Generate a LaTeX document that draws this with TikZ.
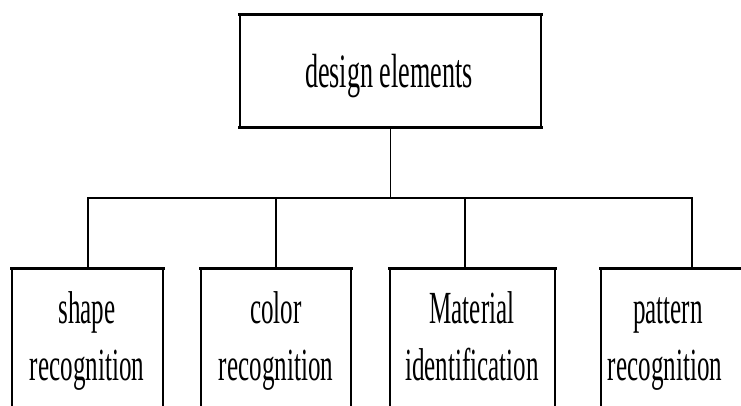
\documentclass[tikz,border=0pt]{standalone}
\usepackage{fontspec}
\setmainfont{Liberation Serif}
\begin{document}
\begin{tikzpicture}[x=1pt,y=-1pt,
  hl/.style={line width=2.8pt, line cap=rect},
  vl/.style={line width=1.7pt},
  frame/.style={draw=none, inner sep=0pt},
  toptxt/.style={font=\fontsize{48}{55}\selectfont, inner sep=0pt, anchor=base, xscale=0.545},
  lbl/.style={font=\fontsize{46}{57}\selectfont, inner sep=0pt, anchor=base, xscale=0.545}]
\useasboundingbox (0,0) rectangle (741,405);
\clip (0,0) rectangle (741,405);
% top box
\node[frame, minimum width=301pt, minimum height=112pt] (top) at (390.5,71) {};
\node[toptxt] (toptext) at (389,87) {design elements};
% bottom boxes
\node[frame, minimum width=151pt, minimum height=150pt] (b1) at (87.5,344) {};
\node[frame, minimum width=150pt, minimum height=150pt] (b2) at (276,344) {};
\node[frame, minimum width=165pt, minimum height=150pt] (b3) at (472.5,344) {};
\node[frame, minimum width=182pt, minimum height=150pt] (b4) at (692,344) {};
\foreach \b in {top,b1,b2,b3,b4}{
  \draw[hl] (\b.north west) -- (\b.north east);
  \draw[hl] (\b.south west) -- (\b.south east);
  \draw[vl] (\b.north west) -- (\b.south west);
  \draw[vl] (\b.north east) -- (\b.south east);
}
% texts
\node[lbl] (t1a) at (87,323) {shape};
\node[lbl] (t1b) at (87,380) {recognition};
\node[lbl] (t2a) at (276,323) {color};
\node[lbl] (t2b) at (276,380) {recognition};
\node[lbl] (t3a) at (472,323) {Material};
\node[lbl] (t3b) at (472,380) {identification};
\node[lbl] (t4a) at (668,323) {pattern};
\node[lbl] (t4b) at (665,380) {recognition};
% connectors
\coordinate (bus) at (390.5,198);
\coordinate (d1) at (88,198);
\coordinate (d2) at (276,198);
\coordinate (d3) at (465,198);
\coordinate (d4) at (692,198);
\draw[vl] (top.south) -- (bus);
\draw[hl] (d1) -- (d4);
\draw[vl] (d1) -- (d1 |- b1.north);
\draw[vl] (d2) -- (d2 |- b2.north);
\draw[vl] (d3) -- (d3 |- b3.north);
\draw[vl] (d4) -- (d4 |- b4.north);
\end{tikzpicture}
\end{document}
